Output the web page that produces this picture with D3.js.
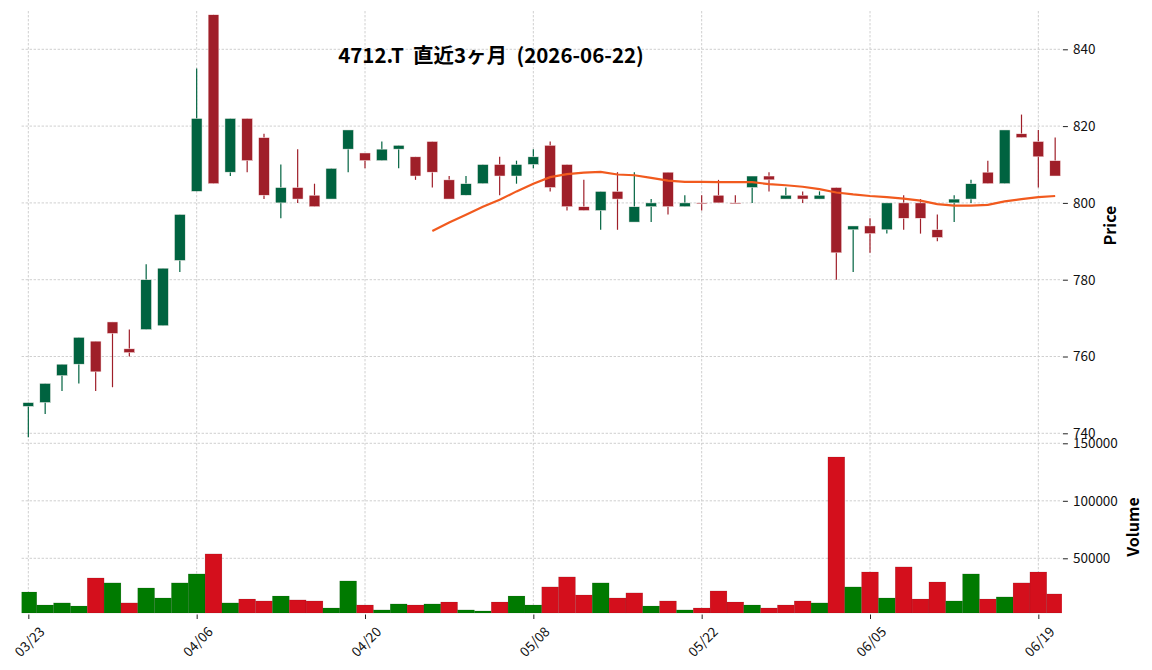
<!DOCTYPE html>
<html>
<head>
<meta charset="utf-8">
<script src="https://cdn.jsdelivr.net/npm/d3@7"></script>
<style>
  body { margin: 0; background: #fff; }
  svg { font-family: "Noto Sans CJK JP", "Noto Sans", sans-serif; }
</style>
</head>
<body>
<div class="chartContainer"></div>
<script>
// trading days shown on the chart
const dates = ["03/23","03/24","03/25","03/26","03/27","03/30","03/31","04/01","04/02","04/03",
  "04/06","04/07","04/08","04/09","04/10","04/13","04/14","04/15","04/16","04/17",
  "04/20","04/21","04/22","04/23","04/24","04/27","04/28","04/30","05/01","05/07",
  "05/08","05/11","05/12","05/13","05/14","05/15","05/18","05/19","05/20","05/21",
  "05/22","05/25","05/26","05/27","05/28","05/29","06/01","06/02","06/03","06/04",
  "06/05","06/08","06/09","06/10","06/11","06/12","06/15","06/16","06/17","06/18",
  "06/19","06/22"];

const opens = [747,748,755,758,764,769,762,767,768,785, 803,849,808,822,817,800,804,802,801,814,
  813,811,814,812,816,806,802,805,810,807, 810,815,810,799,798,803,795,799,808,799,
  800,802,800,804,807,801,802,801,804,793, 794,793,800,800,793,800,801,808,805,818, 816,811];
const highs = [748,753,758,765,764,769,767,784,783,797, 835,849,822,822,818,810,814,805,809,819,
  813,816,815,812,816,807,807,810,812,811, 814,816,810,806,803,808,808,801,808,802,
  802,806,802,807,808,804,803,803,804,794, 796,800,802,801,797,802,806,811,819,823, 819,817];
const lows = [739,745,751,753,751,752,760,767,768,782, 803,805,807,808,801,796,800,799,801,808,
  809,811,809,806,804,801,802,805,802,805, 809,803,798,798,793,793,795,795,797,799,
  798,800,800,800,803,801,800,801,780,782, 787,792,793,792,790,795,800,805,805,817, 804,807];
const closes = [748,753,758,765,756,766,761,780,783,797, 822,805,822,811,802,804,801,799,809,819,
  811,814,815,807,808,801,805,810,807,810, 812,804,799,798,803,801,799,800,799,800,
  800,800,800,807,806,802,801,802,787,794, 792,800,796,796,791,801,805,805,819,817, 812,807];
const volumes = [20700,9400,11200,8500,32900,28600,11200,24200,15500,28600,
  36400,53800,11200,14600,12900,17200,13800,12900,6800,30300,
  9400,5100,10300,9400,10300,12000,5100,4200,12000,17200,
  9400,25100,33800,18100,28600,15500,19900,8500,12900,5100,
  6800,21600,12000,9400,6800,9400,12900,11200,138100,25100,
  38100,15500,42500,14600,29400,12900,36400,14600,16400,28600,
  38100,19000];
// moving average, drawn from 04/24 (index 24) onward
const maStart = 24;
const maValues = [792.7,794.9,796.9,799.0,800.8,803.0,805.0,806.7,807.5,807.9,
  808.1,807.4,807.2,806.5,805.8,805.5,805.5,805.4,805.4,805.4,
  804.9,804.6,804.2,803.6,802.7,802.2,801.8,801.5,801.1,800.6,
  799.7,799.3,799.3,799.5,800.4,801.0,801.5,801.8];

const priceTicks = [740, 760, 780, 800, 820, 840];
const volumeTicks = [50000, 100000, 150000];
const xTickIdx = [0, 10, 20, 30, 40, 50, 60];
const title = "4712.T  直近3ヶ月  (2026-06-22)";

const width = 1152,
  height = 670;
const plotLeft = 21.6,
  plotRight = 1061.9,
  priceTop = 11,
  priceBottom = 440,
  volTop = 441,
  volBottom = 613;

const upCandle = "#006340",
  downCandle = "#9f1f29",
  upVol = "#007a00",
  downVol = "#d40f1c",
  maColor = "#f15a1e",
  gridColor = "#c4c4c4";

const svg = d3
  .select(".chartContainer")
  .append("svg")
  .attr("width", width)
  .attr("height", height);

const xScale = d3.scaleLinear().domain([-0.4, 61.4]).range([plotLeft, plotRight]);
const yPrice = d3.scaleLinear().domain([740, 840]).range([433.3, 49.3]);
const yVol = d3.scaleLinear().domain([50000, 150000]).range([558.3, 443.3]);
const unit = xScale(1) - xScale(0);

svg.append("clipPath").attr("id", "plotClip")
  .append("rect")
  .attr("x", plotLeft).attr("y", 0)
  .attr("width", plotRight - plotLeft).attr("height", height);

// grid
const grid = svg.append("g")
  .attr("stroke", gridColor)
  .attr("stroke-width", 0.8)
  .attr("stroke-dasharray", "2.4,1.6");
grid.selectAll(".vgrid").data(xTickIdx).enter().append("line")
  .attr("x1", (d) => xScale(d)).attr("x2", (d) => xScale(d))
  .attr("y1", priceTop).attr("y2", volBottom);
grid.selectAll(".pgrid").data(priceTicks).enter().append("line")
  .attr("x1", plotLeft).attr("x2", plotRight)
  .attr("y1", (d) => yPrice(d)).attr("y2", (d) => yPrice(d));
grid.selectAll(".vvgrid").data(volumeTicks).enter().append("line")
  .attr("x1", plotLeft).attr("x2", plotRight)
  .attr("y1", (d) => yVol(d)).attr("y2", (d) => yVol(d));

// volume bars, coloured by change from previous close
const volUp = (i) => (i === 0 ? closes[0] > opens[0] : closes[i] > closes[i - 1]);
svg.append("g")
  .attr("clip-path", "url(#plotClip)")
  .selectAll("rect")
  .data(volumes)
  .enter()
  .append("rect")
  .attr("x", (d, i) => xScale(i - 0.5))
  .attr("width", unit)
  .attr("y", (d) => yVol(d))
  .attr("height", (d) => volBottom - yVol(d))
  .attr("fill", (d, i) => (volUp(i) ? upVol : downVol))
  .attr("stroke", "rgba(0,0,0,0.18)")
  .attr("stroke-width", 0.5);

// candles
const bodyW = unit * 0.64;
const candles = svg.append("g")
  .selectAll("g")
  .data(opens)
  .enter()
  .append("g")
  .attr("fill", (d, i) => (closes[i] > opens[i] ? upCandle : downCandle))
  .attr("stroke", (d, i) => (closes[i] > opens[i] ? upCandle : downCandle));

candles.append("line")
  .attr("x1", (d, i) => xScale(i)).attr("x2", (d, i) => xScale(i))
  .attr("y1", (d, i) => yPrice(highs[i]))
  .attr("y2", (d, i) => yPrice(lows[i]))
  .attr("stroke-width", 1.2);

candles.append("rect")
  .attr("x", (d, i) => xScale(i) - bodyW / 2)
  .attr("width", bodyW)
  .attr("y", (d, i) => yPrice(Math.max(opens[i], closes[i])))
  .attr("height", (d, i) => Math.max(1, Math.abs(yPrice(opens[i]) - yPrice(closes[i]))))
  .attr("stroke", "#fff4f4")
  .attr("stroke-width", 0.5);

// moving average
const maLine = d3.line()
  .x((d, i) => xScale(maStart + i))
  .y((d) => yPrice(d));
svg.append("path")
  .datum(maValues)
  .attr("d", maLine)
  .attr("fill", "none")
  .attr("stroke", maColor)
  .attr("stroke-width", 2.2);

// right axes
const priceAxis = svg.append("g")
  .attr("transform", `translate(${plotRight + 1},0)`)
  .call(d3.axisRight(yPrice).tickValues(priceTicks).tickSize(5).tickPadding(5));
const volAxis = svg.append("g")
  .attr("transform", `translate(${plotRight + 1},0)`)
  .call(d3.axisRight(yVol).tickValues(volumeTicks).tickSize(5).tickPadding(5).tickFormat(d3.format("d")));

// x axis
const xAxis = svg.append("g")
  .attr("transform", `translate(0,${volBottom + 1.5})`)
  .call(d3.axisBottom(xScale).tickValues(xTickIdx).tickSize(4.5).tickFormat((i) => dates[i]));

[priceAxis, volAxis, xAxis].forEach((ax) => {
  ax.select(".domain").remove();
  ax.selectAll("line").attr("stroke", "#222");
  ax.selectAll("text")
    .attr("fill", "#111")
    .style("font-size", "13.5px")
    .style("font-family", '"Noto Sans CJK JP", "Noto Sans", sans-serif');
});

xAxis.selectAll("text")
  .attr("y", 0)
  .attr("dy", 0)
  .attr("text-anchor", "middle")
  .attr("dominant-baseline", "central")
  .attr("transform", "translate(0,26.5) rotate(-45)");

// labels
svg.append("text")
  .attr("transform", `translate(1116,${(priceTop + priceBottom) / 2}) rotate(-90)`)
  .attr("text-anchor", "middle")
  .style("font-size", "16px")
  .style("font-weight", "bold")
  .text("Price");
svg.append("text")
  .attr("transform", `translate(1139,${(volTop + volBottom) / 2}) rotate(-90)`)
  .attr("text-anchor", "middle")
  .style("font-size", "16px")
  .style("font-weight", "bold")
  .text("Volume");

svg.append("text")
  .attr("x", 491)
  .attr("y", 63)
  .attr("text-anchor", "middle")
  .style("font-size", "20.5px")
  .style("font-weight", "bold")
  .style("white-space", "pre")
  .text(title);
</script>
</body>
</html>
